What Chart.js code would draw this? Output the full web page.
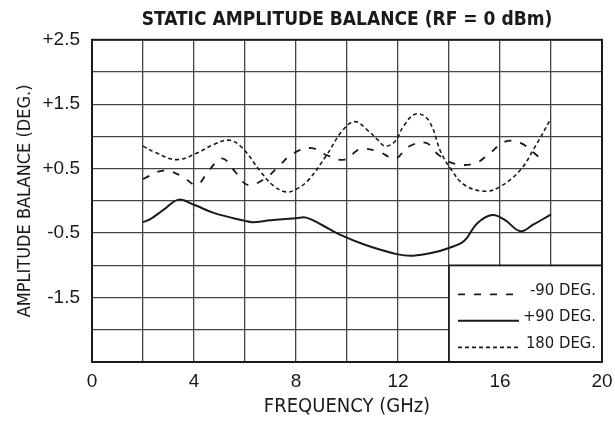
<!DOCTYPE html>
<html><head><meta charset="utf-8">
<script src="https://cdn.jsdelivr.net/npm/chart.js@4/dist/chart.umd.min.js"></script>
<style>html,body{margin:0;padding:0;background:#fff}#wrap{width:615px;height:426px;position:relative}</style>
</head><body><div id="wrap"><canvas id="c"></canvas></div>
<script>
const NARROW = "'Liberation Sans Narrow', 'DejaVu Sans Condensed', 'Liberation Sans', sans-serif";
const REGULAR = "'Liberation Sans', Arial, sans-serif";

const chartTitle = 'STATIC AMPLITUDE BALANCE (RF = 0 dBm)';
const xAxisTitle = 'FREQUENCY (GHz)';
const yAxisTitle = 'AMPLITUDE BALANCE (DEG.)';
const xTickLabels = ['0', '4', '8', '12', '16', '20'];
const yTickLabels = ['+2.5', '+1.5', '+0.5', '-0.5', '-1.5'];
const seriesNames = ['-90 DEG.', '+90 DEG.', '180 DEG.'];

const minus90Freq = [2.0, 2.8, 3.5, 4.1, 4.6, 5.1, 5.6, 6.1, 6.8, 7.3, 7.9, 8.6, 9.2, 9.9, 10.5, 11.2, 11.9, 12.4, 13.1, 13.6, 14.2, 15.0, 15.6, 16.2, 16.8, 17.5];
const minus90Val  = [0.34, 0.47, 0.39, 0.25, 0.48, 0.66, 0.46, 0.25, 0.35, 0.53, 0.74, 0.82, 0.71, 0.64, 0.80, 0.77, 0.66, 0.84, 0.90, 0.71, 0.58, 0.58, 0.74, 0.92, 0.90, 0.69];

const plus90Freq = [2.0, 2.3, 2.8, 3.4, 4.0, 4.8, 6.0, 6.3, 7.0, 8.0, 8.4, 9.0, 9.7, 10.7, 12.0, 12.6, 13.3, 14.0, 14.6, 15.1, 15.7, 16.2, 16.8, 17.3, 18.0];
const plus90Val  = [-0.33, -0.28, -0.14, 0.02, -0.06, -0.19, -0.31, -0.33, -0.30, -0.27, -0.26, -0.37, -0.52, -0.68, -0.83, -0.85, -0.81, -0.73, -0.62, -0.35, -0.22, -0.30, -0.47, -0.37, -0.21];

const deg180Freq = [2.0, 2.5, 3.3, 4.1, 4.8, 5.4, 5.9, 6.6, 7.1, 7.6, 8.0, 8.5, 9.2, 9.8, 10.3, 10.8, 11.2, 11.5, 11.9, 12.2, 12.7, 13.2, 13.7, 14.1, 14.6, 15.4, 16.0, 16.8, 17.3, 18.0];
const deg180Val  = [0.85, 0.75, 0.64, 0.74, 0.88, 0.94, 0.82, 0.46, 0.24, 0.14, 0.18, 0.33, 0.71, 1.08, 1.23, 1.10, 0.95, 0.85, 0.93, 1.15, 1.35, 1.25, 0.74, 0.48, 0.25, 0.15, 0.22, 0.48, 0.79, 1.28];

const legendBoxCorner = [14, -1.0]; // frequency, balance of the legend box's upper-left corner

const pts = (xs, ys) => xs.map((x, i) => ({x, y: ys[i]}));
const INK = '#1a1a1a';

const datasets = [
  {label: seriesNames[0], data: pts(minus90Freq, minus90Val), borderDash: [7, 9], borderWidth: 1.8},
  {label: seriesNames[1], data: pts(plus90Freq, plus90Val), borderDash: [], borderWidth: 2},
  {label: seriesNames[2], data: pts(deg180Freq, deg180Val), borderDash: [4, 3], borderWidth: 1.6}
].map(d => Object.assign(d, {borderColor: INK, backgroundColor: INK, pointRadius: 0, tension: 0.4, fill: false}));

const fmtY = v => (v > 0 ? '+' : '') + Number(v).toFixed(1);

const boxLegend = {
  id: 'boxLegend',
  beforeDatasetsDraw(chart) {
    const {ctx, chartArea: a, scales: {x, y}} = chart;
    const left = x.getPixelForValue(legendBoxCorner[0]);
    const top = y.getPixelForValue(legendBoxCorner[1]);
    ctx.save();
    ctx.fillStyle = '#fff';
    ctx.fillRect(left + 1, top + 1, a.right - left - 2, a.bottom - top - 2);
    ctx.strokeStyle = INK; ctx.lineWidth = 1.6;
    ctx.beginPath();
    ctx.moveTo(left, a.bottom); ctx.lineTo(left, top); ctx.lineTo(a.right, top);
    ctx.stroke();
    ctx.lineWidth = 2;
    ctx.strokeRect(a.left, a.top, a.right - a.left, a.bottom - a.top);
    ctx.restore();
  },
  afterDatasetsDraw(chart) {
    const {ctx, chartArea: a, scales: {x, y}} = chart;
    const left = x.getPixelForValue(legendBoxCorner[0]);
    const top = y.getPixelForValue(legendBoxCorner[1]);
    ctx.save();
    chart.data.datasets.forEach((ds, i) => {
      const ty = top + 25 + i * 26.5;
      const ly = ty + 4;
      ctx.strokeStyle = INK;
      ctx.lineWidth = ds.borderWidth;
      ctx.setLineDash(ds.borderDash);
      ctx.beginPath(); ctx.moveTo(left + 9, ly); ctx.lineTo(left + 70, ly); ctx.stroke();
      ctx.setLineDash([]);
      ctx.fillStyle = INK;
      ctx.font = '16.5px ' + NARROW;
      ctx.textAlign = 'right'; ctx.textBaseline = 'middle';
      ctx.fillText(ds.label, a.right - 6, ty);
    });
    ctx.restore();
  }
};

new Chart(document.getElementById('c'), {
  type: 'line',
  data: {datasets},
  plugins: [boxLegend],
  options: {
    responsive: true, maintainAspectRatio: false, animation: false,
    layout: {padding: {left: 0, right: 0, top: 0, bottom: 0}},
    plugins: {
      legend: {display: false},
      tooltip: {enabled: false},
      title: {display: true, text: chartTitle, fullSize: false, color: INK,
        font: {family: NARROW, size: 19, weight: 'bold'}, padding: {top: 9, bottom: 8}}
    },
    scales: {
      x: {
        type: 'linear', min: 0, max: 20,
        afterFit: s => { s.height = 64; s.paddingRight = 13; },
        grid: {color: '#444', lineWidth: 1.3, drawTicks: false},
        border: {color: INK, width: 2},
        ticks: {stepSize: 2, autoSkip: false, maxRotation: 0, padding: 8, color: INK,
          font: {family: REGULAR, size: 19},
          callback: v => xTickLabels.includes(String(v)) ? String(v) : ''},
        title: {display: true, text: xAxisTitle, color: INK, font: {family: NARROW, size: 20}, padding: {top: 0, bottom: 7}}
      },
      y: {
        type: 'linear', min: -2.5, max: 2.5,
        afterFit: s => { s.width = 92; },
        grid: {color: '#444', lineWidth: 1.3, drawTicks: false},
        border: {color: INK, width: 2},
        ticks: {stepSize: 0.5, autoSkip: false, padding: 12, color: INK,
          font: {family: REGULAR, size: 19},
          callback: v => yTickLabels.includes(fmtY(v)) ? fmtY(v) : ''},
        title: {display: true, text: yAxisTitle, color: INK, font: {family: NARROW, size: 18}, padding: {top: 15, bottom: 0}}
      }
    }
  }
});
</script>
</body></html>
